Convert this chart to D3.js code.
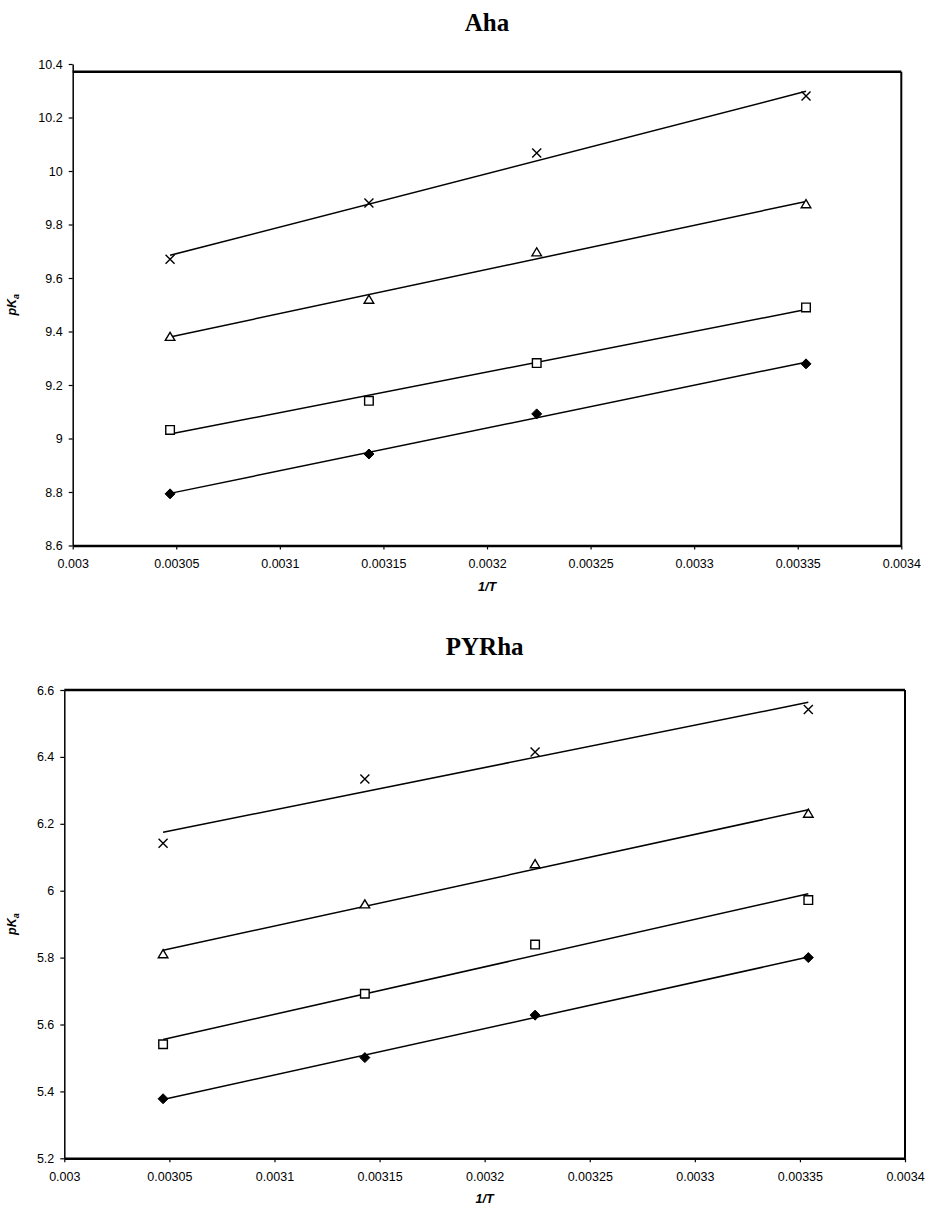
<!DOCTYPE html>
<html>
<head>
<meta charset="utf-8">
<script src="https://cdn.jsdelivr.net/npm/d3@7"></script>
<style>
  body { margin: 0; background: #fff; }
  svg { display: block; }
  .tick text { font-family: "Liberation Sans", Arial, sans-serif; font-size: 12.5px; fill: #000; }
  .tick line { stroke: #000; stroke-width: 1.2; }
</style>
</head>
<body>
<script>
// 1/T for the four temperatures
var invT = [0.003047, 0.003143, 0.003224, 0.003354];

// Aha
var ahaCross    = [9.670, 9.880, 10.067, 10.280];
var ahaTriangle = [9.381, 9.520, 9.697, 9.877];
var ahaSquare   = [9.032, 9.141, 9.282, 9.490];
var ahaDiamond  = [8.793, 8.942, 9.092, 9.279];

// PYRha
var pyrCross    = [6.142, 6.334, 6.415, 6.542];
var pyrTriangle = [5.811, 5.960, 6.080, 6.231];
var pyrSquare   = [5.541, 5.692, 5.839, 5.972];
var pyrDiamond  = [5.378, 5.501, 5.628, 5.800];

var xTicks = [0.003, 0.00305, 0.0031, 0.00315, 0.0032, 0.00325, 0.0033, 0.00335, 0.0034];
var ahaTicks = [8.6, 8.8, 9, 9.2, 9.4, 9.6, 9.8, 10, 10.2, 10.4];
var pyrTicks = [5.2, 5.4, 5.6, 5.8, 6, 6.2, 6.4, 6.6];

var width = 925, height = 1205;

var svg = d3.select("body").append("svg")
  .attr("width", width)
  .attr("height", height);

var charts = [
  { title: "Aha", series: [ahaCross, ahaTriangle, ahaSquare, ahaDiamond], ticks: ahaTicks,
    left: 72.7, right: 901.3, top: 64, bottom: 545.5, frameTop: 71.7, titleY: 31 },
  { title: "PYRha", series: [pyrCross, pyrTriangle, pyrSquare, pyrDiamond], ticks: pyrTicks,
    left: 64.3, right: 905, top: 690, bottom: 1158.3, frameTop: 690, titleY: 655 }
];
var markers = ["cross", "triangle", "square", "diamond"];

function fit(xs, ys) {
  var mx = d3.mean(xs), my = d3.mean(ys);
  var sxy = d3.sum(xs, (x, i) => (x - mx) * (ys[i] - my));
  var sxx = d3.sum(xs, x => (x - mx) * (x - mx));
  var b = sxy / sxx;
  return x => my + b * (x - mx);
}

function markerPath(type) {
  if (type == "cross") return "M-4.5,-4.5L4.5,4.5M-4.5,4.5L4.5,-4.5";
  if (type == "triangle") return "M0,-4.3L4.8,3.8L-4.8,3.8Z";
  if (type == "square") return "M-4.3,-4.3H4.3V4.3H-4.3Z";
  return "M0,-5L5,0L0,5L-5,0Z";
}

charts.forEach(function(c) {
  var x = d3.scaleLinear().domain([0.003, 0.0034]).range([c.left, c.right]);
  var y = d3.scaleLinear().domain(d3.extent(c.ticks)).range([c.bottom, c.top]);
  var g = svg.append("g");

  g.append("text")
    .attr("x", (c.left + c.right) / 2)
    .attr("y", c.titleY)
    .attr("text-anchor", "middle")
    .style("font-family", "'Liberation Serif', 'Times New Roman', serif")
    .style("font-weight", "bold")
    .style("font-size", "25px")
    .text(c.title);

  // frame (top + right)
  g.append("line")
    .attr("x1", c.left).attr("x2", c.right)
    .attr("y1", c.frameTop).attr("y2", c.frameTop)
    .attr("stroke", "#000").attr("stroke-width", 2.5);
  g.append("line")
    .attr("x1", c.right).attr("x2", c.right)
    .attr("y1", c.frameTop).attr("y2", c.bottom)
    .attr("stroke", "#000").attr("stroke-width", 2);

  var yAxis = g.append("g")
    .attr("transform", "translate(" + c.left + ",0)")
    .call(d3.axisLeft(y).tickValues(c.ticks).tickSize(4).tickSizeOuter(0).tickPadding(6)
      .tickFormat(d => String(+d.toFixed(1))));
  yAxis.select(".domain").attr("stroke", "#000").attr("stroke-width", 1.5);

  var xAxis = g.append("g")
    .attr("transform", "translate(0," + c.bottom + ")")
    .call(d3.axisBottom(x).tickValues(xTicks).tickSize(4).tickSizeOuter(0).tickPadding(10)
      .tickFormat(d => String(+d.toFixed(5))));
  xAxis.select(".domain").attr("stroke", "#000").attr("stroke-width", 2.5);

  g.append("text")
    .attr("x", (c.left + c.right) / 2)
    .attr("y", c.bottom + 45)
    .attr("text-anchor", "middle")
    .style("font-family", "'Liberation Sans', Arial, sans-serif")
    .style("font-weight", "bold")
    .style("font-style", "italic")
    .style("font-size", "12.5px")
    .text("1/T");

  var lab = g.append("text")
    .attr("transform", "translate(16," + (c.top + c.bottom) / 2 + ") rotate(-90)")
    .attr("text-anchor", "middle")
    .style("font-family", "'Liberation Sans', Arial, sans-serif")
    .style("font-weight", "bold")
    .style("font-style", "italic")
    .style("font-size", "12.5px");
  lab.append("tspan").text("pK");
  lab.append("tspan").attr("dy", 3).style("font-size", "9px").text("a");

  var xMin = d3.min(invT), xMax = d3.max(invT);
  c.series.forEach(function(s) {
    var f = fit(invT, s);
    g.append("line")
      .attr("x1", x(xMin)).attr("y1", y(f(xMin)))
      .attr("x2", x(xMax)).attr("y2", y(f(xMax)))
      .attr("stroke", "#000").attr("stroke-width", 1.5);
  });

  c.series.forEach(function(s, i) {
    var type = markers[i];
    g.selectAll(null)
      .data(s.map((v, j) => [invT[j], v]))
      .join("path")
        .attr("transform", d => "translate(" + x(d[0]) + "," + y(d[1]) + ")")
        .attr("d", markerPath(type))
        .attr("fill", type == "diamond" ? "#000" : (type == "cross" ? "none" : "#fff"))
        .attr("stroke", "#000")
        .attr("stroke-width", type == "diamond" ? 1 : 1.4);
  });
});
</script>
</body>
</html>
